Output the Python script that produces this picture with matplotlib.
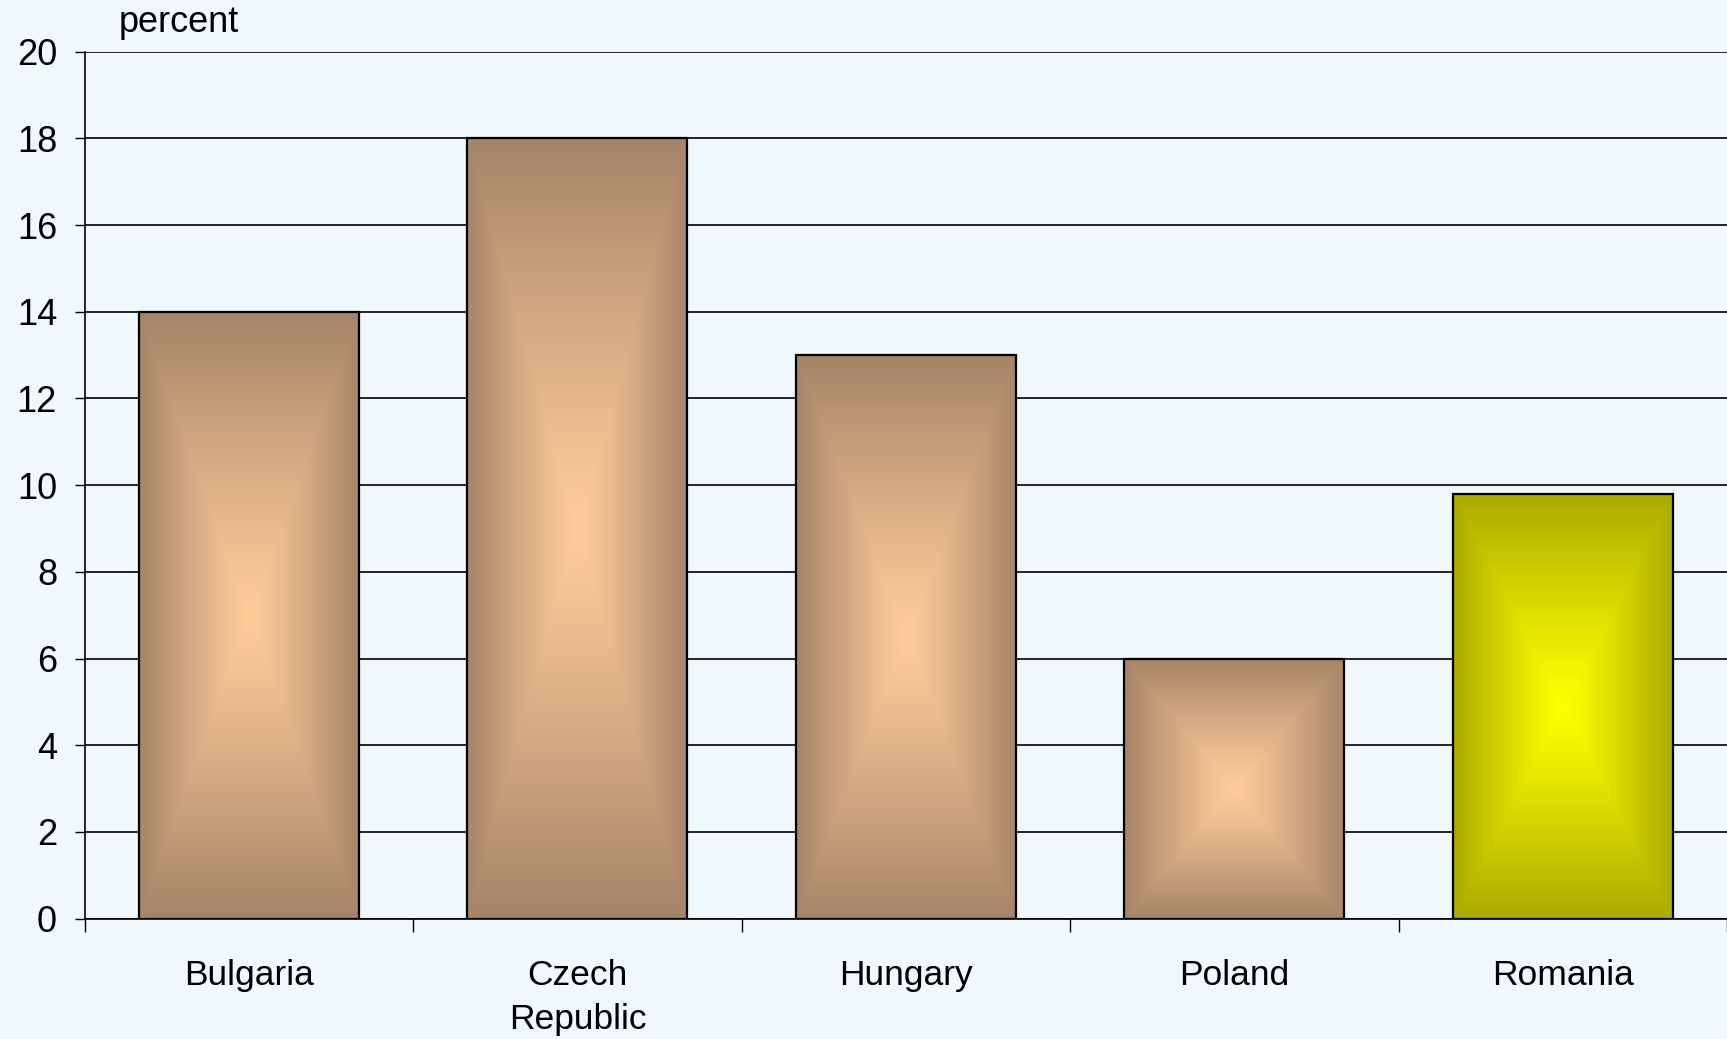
import numpy as np
import matplotlib
matplotlib.use("Agg")
import matplotlib.pyplot as plt
from matplotlib.ticker import FixedLocator

categories = ["Bulgaria", "Czech\nRepublic", "Hungary", "Poland", "Romania"]
values = [14, 18, 13, 6, 9.8]
y_ticks = [0, 2, 4, 6, 8, 10, 12, 14, 16, 18, 20]

# (edge colour, centre colour) for each bar's rectangular gradient
brown = ((0.651, 0.518, 0.408), (1.0, 0.80, 0.60))
yellow = ((0.667, 0.667, 0.0), (1.0, 1.0, 0.0))
bar_styles = [brown, brown, brown, brown, yellow]

plt.rcParams["font.family"] = ["Liberation Sans", "DejaVu Sans"]

bg = "#F0F8FB"
fig = plt.figure(figsize=(17.27, 10.39), dpi=100, facecolor=bg)
ax = fig.add_axes([0.0491, 0.1159, 0.9509, 0.8343], facecolor=bg)

bar_w = 0.67
ax.set_xlim(-0.5, 4.5)
ax.set_ylim(0, 20)

ax.yaxis.grid(True, color="black", linewidth=1.2, zorder=0)
ax.set_axisbelow(True)

bars = ax.bar(range(len(values)), values, width=bar_w, facecolor="none",
              edgecolor="black", linewidth=1.6, zorder=3)

n = 200
for rect, (edge_c, centre_c) in zip(bars, bar_styles):
    x0, y0 = rect.get_x(), rect.get_y()
    w, h = rect.get_width(), rect.get_height()
    u = np.linspace(-1, 1, n)
    U, V = np.meshgrid(u, u)
    t = np.maximum(np.abs(U), np.abs(V)) ** 1.15
    e = np.array(edge_c)
    c = np.array(centre_c)
    img = c[None, None, :] + (e - c)[None, None, :] * t[..., None]
    ax.imshow(img, extent=(x0, x0 + w, y0, y0 + h), origin="lower",
              aspect="auto", interpolation="bilinear", zorder=2)

ax.set_aspect("auto")
ax.set_xlim(-0.5, 4.5)
ax.set_ylim(0, 20)

ax.set_yticks(y_ticks)
ax.set_xticks(range(len(categories)))
ax.set_xticklabels(categories, fontsize=25.5, linespacing=1.42)
ax.xaxis.set_minor_locator(FixedLocator([-0.5, 0.5, 1.5, 2.5, 3.5, 4.5]))
ax.tick_params(axis="x", which="major", length=0, pad=29)
ax.tick_params(axis="x", which="minor", length=9, width=1.0, color="black",
               direction="out")
ax.tick_params(axis="y", length=7, width=1.0, direction="out", labelsize=26,
               pad=13)

for side in ("top", "right"):
    ax.spines[side].set_visible(False)
ax.spines["left"].set_linewidth(1.2)
ax.spines["bottom"].set_linewidth(1.2)

fig.text(119 / 1727, 1 - 22 / 1039, "percent", fontsize=26,
         ha="left", va="center")

fig.savefig("out.png", dpi=100, facecolor=bg)
